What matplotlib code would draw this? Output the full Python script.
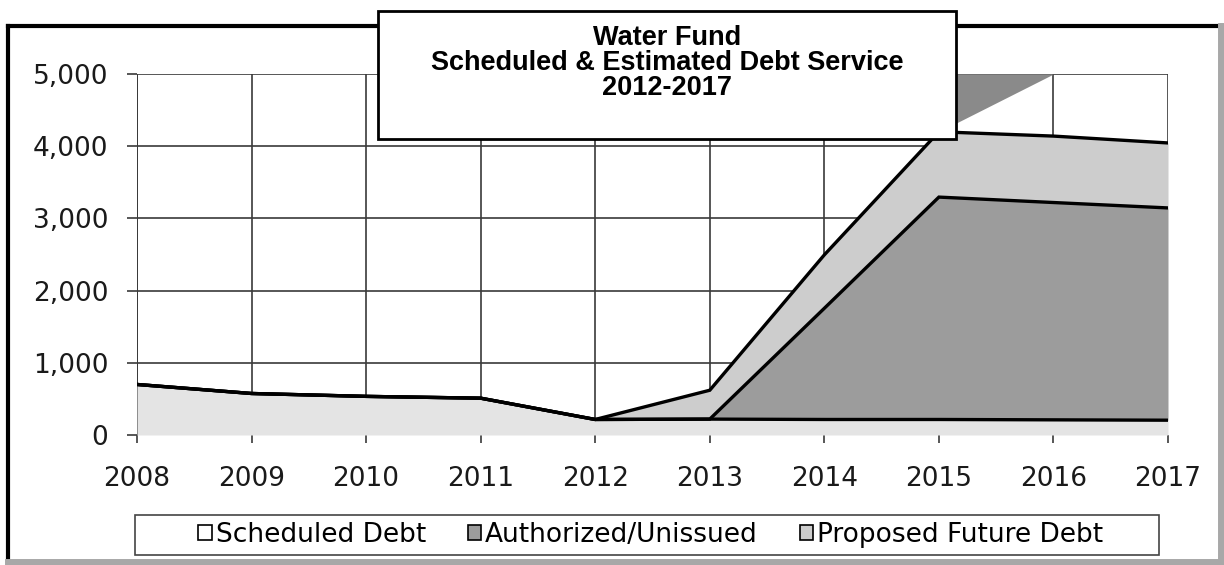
import matplotlib.pyplot as plt
from matplotlib.patches import Rectangle, Patch
from matplotlib.lines import Line2D
from matplotlib.ticker import StrMethodFormatter

plt.rcParams['font.family'] = ['DejaVu Sans']

# debt service, thousands of dollars
years = [2008, 2009, 2010, 2011, 2012, 2013, 2014, 2015, 2016, 2017]
scheduled = [700, 575, 535, 510, 215, 220, 215, 215, 210, 205]
authorized = [0, 0, 0, 0, 0, 0, 1540, 3080, 3010, 2940]
proposed = [0, 0, 0, 0, 0, 400, 740, 905, 920, 900]

# piece of an extra band that runs off the top of the scale
overflow_years = [2015, 2016]
overflow_low = [4200, 5000]
overflow_high = [5000, 5000]

labels = ['Scheduled Debt', 'Authorized/Unissued', 'Proposed Future Debt']
fills = ['#e4e4e4', '#9c9c9c', '#cdcdcd']
title_lines = ['Water Fund', 'Scheduled & Estimated Debt Service', '2012-2017']

W, H = 1224, 565
fig = plt.figure(figsize=(W / 100, H / 100), dpi=100)
ax = fig.add_axes([137 / W, 1 - 435 / H, (1168 - 137) / W, (435 - 74) / H])

lvl1 = [s for s in scheduled]
lvl2 = [a + b for a, b in zip(lvl1, authorized)]
lvl3 = [a + b for a, b in zip(lvl2, proposed)]

ax.fill_between(years, 0, lvl1, color=fills[0], lw=0, zorder=2)
ax.fill_between(years, lvl1, lvl2, color=fills[1], lw=0, zorder=2)
ax.fill_between(years, lvl2, lvl3, color=fills[2], lw=0, zorder=2)
ax.fill_between(overflow_years, overflow_low, overflow_high, color='#8a8a8a', lw=0, zorder=2)
for top in (lvl3, lvl2, lvl1):
    ax.plot(years, top, color='black', lw=2.4, zorder=3, solid_joinstyle='miter')

ax.set_xlim(2008, 2017)
ax.set_ylim(0, 5000)
ax.set_xticks(years)
ax.set_yticks(range(0, 5001, 1000))
ax.yaxis.set_major_formatter(StrMethodFormatter('{x:,.0f}'))
ax.set_axisbelow(True)
ax.grid(True, color='#3a3a3a', lw=1.2)
for s in ax.spines.values():
    s.set_visible(False)
ax.tick_params(axis='y', length=7.2, width=1.2, color='#3a3a3a', labelsize=19,
               labelcolor='#1a1a1a', pad=13.5)
ax.tick_params(axis='x', length=6, width=1.2, color='#3a3a3a', labelsize=19,
               labelcolor='#1a1a1a', pad=16)
ax.plot([2008, 2008], [0, 5000], color='#3a3a3a', lw=1.4, zorder=1.5)

# outer frame: black on top/left, grey shadow on right/bottom
fig.add_artist(Line2D([8 / W, 8 / W], [1 - 26 / H, 0], color='black', lw=3))
fig.add_artist(Line2D([8 / W, 1220 / W], [1 - 26 / H, 1 - 26 / H], color='black', lw=3))
fig.add_artist(Line2D([1221 / W, 1221 / W], [1 - 26 / H, 0], color='#a8a8a8', lw=5))
fig.add_artist(Line2D([8 / W, 1], [1 - 562 / H, 1 - 562 / H], color='#a8a8a8', lw=5))

# title box
fig.add_artist(Rectangle((378 / W, 1 - 139 / H), (956 - 378) / W, (139 - 11) / H,
                         transform=fig.transFigure, facecolor='white',
                         edgecolor='black', lw=2, zorder=5))
for i, line in enumerate(title_lines):
    fig.text(667 / W, 1 - (38 + 25 * i) / H, line, ha='center', va='center',
             fontsize=19.5, fontweight='bold', family='Liberation Sans', zorder=6)

# legend with its own full-width frame
fig.add_artist(Rectangle((135 / W, 1 - 555 / H), (1159 - 135) / W, 40 / H,
                         transform=fig.transFigure, facecolor='white',
                         edgecolor='#444444', lw=1.2, zorder=4))
handles = [Patch(facecolor=c, edgecolor='black', lw=1.2) for c in fills]
handles[0].set_facecolor('white')
leg = fig.legend(handles, labels, loc='center', ncol=3,
                 bbox_to_anchor=(651 / W, 1 - 535 / H),
                 fontsize=19, frameon=False, borderaxespad=0,
                 handlelength=0.5, handleheight=0.5, handletextpad=0.15,
                 columnspacing=1.6)
leg.set_zorder(6)

fig.savefig('out.png', dpi=100)
